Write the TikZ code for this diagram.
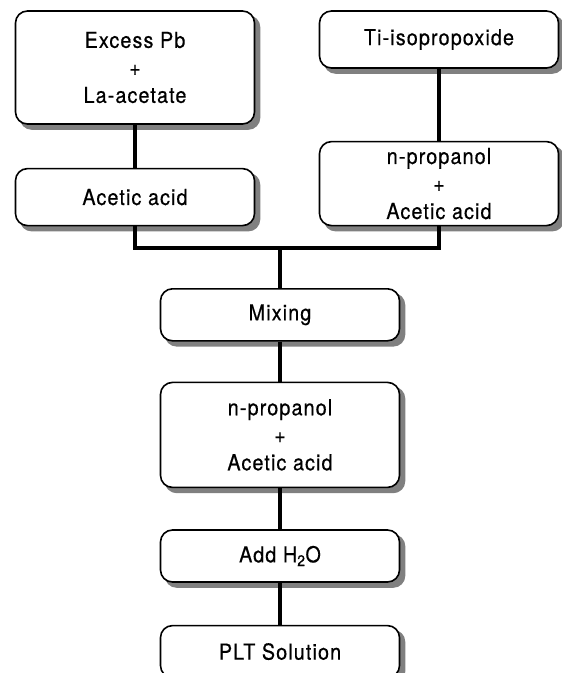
\documentclass[tikz,border=0pt]{standalone}
\usepackage{fontspec}
\setmainfont{TeX Gyre Heros}[LetterSpace=5, FakeStretch=0.9, FakeBold=0.5]
\usepackage{tikz}
\usetikzlibrary{positioning, backgrounds}

\begin{document}
\begin{tikzpicture}[x=1pt, y=1pt,
    stage/.style={rectangle, draw, line width=1.6pt, rounded corners=12pt, fill=white,
        minimum width=239pt, inner sep=0pt, align=center,
        font=\fontsize{22}{27.5}\selectfont},
    boxshadow/.style={fill=black!50, draw=none, rounded corners=12pt},
    link/.style={line width=4pt}]
        \useasboundingbox (0,0) rectangle (562,-673);
        % top rows
        \node[stage, minimum height=113pt] (exc) at (135,-67.5) {Excess Pb\\+\\La-acetate};
        \node[stage, minimum height=57pt] (acl) [below = 43pt of exc] {Acetic acid};
        \node[stage, minimum height=57pt] (ti) at (439,-39.5) {Ti-isopropoxide};
        \node[stage, minimum height=84pt] (npr1) [below = 72pt of ti] {n-propanol\\+\\Acetic acid};
        
        \coordinate (jn) at (280,-248);
        
        % main column
        \node[stage, minimum height=52pt] (mix) [below = 40pt of jn] {Mixing};
        \node[stage, minimum height=105pt] (npr2) [below = 40pt of mix] {n-propanol\\+\\Acetic acid};
        \node[stage, minimum height=52pt] (add) [below = 41pt of npr2] {Add H\textsubscript{2}O};
        \node[stage, minimum height=52pt] (plt) [below = 42pt of add] {PLT Solution};
        
        \draw[link] (exc) -- (acl);
        \draw[link] (ti) -- (npr1);
        \draw[link] (acl.south) |- (jn) -| (npr1.south);
        \draw[link] (jn) -- (mix);
        \draw[link] (mix) -- (npr2);
        \draw[link] (npr2) -- (add);
        \draw[link] (add) -- (plt);
        
        % shadows
        \begin{scope}[on background layer]
            \foreach \n in {exc, acl, ti, npr1, mix, npr2, add, plt}
                \fill[boxshadow] ([xshift=5pt, yshift=-5pt]\n.south west) rectangle ([xshift=5pt, yshift=-5pt]\n.north east);
        \end{scope}
    \end{tikzpicture}
\end{document}
